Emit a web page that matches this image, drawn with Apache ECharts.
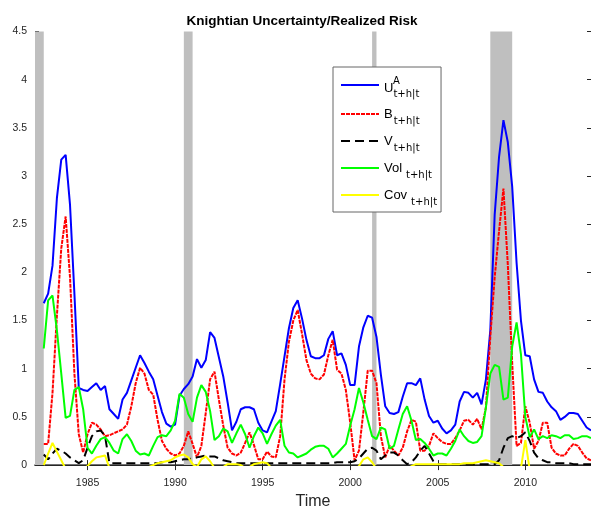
<!DOCTYPE html>
<html>
<head>
<meta charset="utf-8">
<script src="https://cdn.jsdelivr.net/npm/echarts@6/dist/echarts.min.js"></script>
<style>
html, body { margin: 0; padding: 0; background: #fff; }
#chart { width: 591px; height: 515px; }
</style>
</head>
<body>
<div id="chart"></div>
<script>
// quarterly data, first observation 1982Q3
const startYear = 1982.5;

const uncertainty = [
    1.68, 1.78, 2.07, 2.77, 3.17, 3.22, 2.70, 1.78, 0.80, 0.78,
    0.77, 0.81, 0.85, 0.78, 0.82, 0.58, 0.53, 0.48, 0.68, 0.75,
    0.88, 1.01, 1.14, 1.06, 0.97, 0.89, 0.72, 0.55, 0.43, 0.40,
    0.42, 0.72, 0.79, 0.84, 0.92, 1.10, 1.01, 1.09, 1.38, 1.32,
    1.12, 0.92, 0.65, 0.36, 0.45, 0.58, 0.60, 0.60, 0.58, 0.44,
    0.36, 0.34, 0.45, 0.56, 0.84, 1.13, 1.42, 1.63, 1.71, 1.52,
    1.30, 1.13, 1.11, 1.11, 1.14, 1.31, 1.39, 1.14, 1.16, 1.04,
    0.83, 0.83, 1.23, 1.43, 1.55, 1.53, 1.33, 0.94, 0.61, 0.54,
    0.53, 0.55, 0.71, 0.85, 0.85, 0.83, 0.90, 0.68, 0.51, 0.44,
    0.46, 0.38, 0.33, 0.36, 0.42, 0.66, 0.76, 0.75, 0.70, 0.75,
    0.63, 0.89, 1.40, 2.60, 3.20, 3.58, 3.35, 2.89, 2.10, 1.50,
    1.14, 1.13, 0.89, 0.76, 0.75, 0.66, 0.60, 0.56, 0.47, 0.50,
    0.54, 0.54, 0.53, 0.46, 0.39, 0.36
];

const bias = [
    0.22, 0.22, 0.75, 1.55, 2.25, 2.58, 1.95, 0.95, 0.32, 0.13,
    0.32, 0.44, 0.42, 0.37, 0.30, 0.31, 0.33, 0.35, 0.37, 0.42,
    0.61, 0.85, 1.01, 0.95, 0.78, 0.73, 0.47, 0.25, 0.17, 0.12,
    0.10, 0.12, 0.20, 0.35, 0.22, 0.08, 0.20, 0.54, 0.89, 0.97,
    0.68, 0.41, 0.18, 0.12, 0.10, 0.13, 0.23, 0.34, 0.21, 0.06,
    0.06, 0.14, 0.09, 0.08, 0.30, 0.89, 1.28, 1.50, 1.61, 1.36,
    1.09, 0.95, 0.90, 0.89, 0.94, 1.14, 1.30, 0.99, 0.95, 0.78,
    0.44, 0.05, 0.15, 0.55, 0.98, 0.98, 0.85, 0.30, 0.08, 0.20,
    0.15, 0.10, 0.18, 0.35, 0.47, 0.45, 0.15, 0.15, 0.20, 0.33,
    0.28, 0.24, 0.22, 0.22, 0.28, 0.36, 0.46, 0.47, 0.42, 0.48,
    0.37, 0.60, 1.33, 1.95, 2.43, 2.87, 2.08, 1.06, 0.20, 0.23,
    0.61, 0.44, 0.17, 0.25, 0.44, 0.44, 0.18, 0.12, 0.10, 0.10,
    0.17, 0.22, 0.20, 0.13, 0.07, 0.05
];

const variance = [
    0.11, 0.06, 0.12, 0.17, 0.15, 0.12, 0.08, 0.05, 0.02, 0.05,
    0.18, 0.30, 0.35, 0.36, 0.30, 0.02, 0.02, 0.02, 0.02, 0.02,
    0.02, 0.02, 0.02, 0.02, 0.02, 0.02, 0.02, 0.03, 0.03, 0.03,
    0.04, 0.05, 0.06, 0.06, 0.07, 0.08, 0.09, 0.10, 0.09, 0.09,
    0.07, 0.05, 0.04, 0.03, 0.02, 0.02, 0.02, 0.02, 0.02, 0.02,
    0.02, 0.02, 0.02, 0.02, 0.02, 0.02, 0.02, 0.02, 0.02, 0.02,
    0.02, 0.02, 0.02, 0.02, 0.02, 0.02, 0.02, 0.03, 0.03, 0.03,
    0.03, 0.04, 0.07, 0.12, 0.17, 0.18, 0.15, 0.06, 0.10, 0.13,
    0.13, 0.10, 0.05, 0.01, 0.03, 0.08, 0.15, 0.20, 0.12, 0.04,
    0.01, 0.01, 0.01, 0.01, 0.01, 0.01, 0.01, 0.01, 0.01, 0.01,
    0.01, 0.01, 0.01, 0.01, 0.05, 0.18, 0.28, 0.30, 0.28, 0.30,
    0.34, 0.25, 0.13, 0.07, 0.05, 0.03, 0.03, 0.02, 0.02, 0.02,
    0.02, 0.01, 0.01, 0.01, 0.01, 0.01
];

const volatility = [
    1.21, 1.71, 1.76, 1.40, 0.95, 0.49, 0.51, 0.78, 0.81, 0.58,
    0.18, 0.12, 0.20, 0.27, 0.29, 0.23, 0.15, 0.12, 0.27, 0.32,
    0.25, 0.15, 0.11, 0.12, 0.10, 0.20, 0.29, 0.31, 0.30, 0.36,
    0.46, 0.74, 0.70, 0.53, 0.45, 0.70, 0.83, 0.76, 0.56, 0.26,
    0.30, 0.38, 0.35, 0.23, 0.33, 0.42, 0.32, 0.18, 0.30, 0.39,
    0.33, 0.22, 0.32, 0.41, 0.47, 0.20, 0.13, 0.12, 0.08, 0.10,
    0.12, 0.16, 0.19, 0.20, 0.20, 0.17, 0.08, 0.12, 0.17, 0.22,
    0.41, 0.58, 0.80, 0.65, 0.47, 0.30, 0.27, 0.39, 0.37, 0.17,
    0.20, 0.37, 0.53, 0.61, 0.46, 0.26, 0.27, 0.23, 0.17, 0.10,
    0.12, 0.12, 0.10, 0.17, 0.25, 0.37, 0.30, 0.25, 0.23, 0.24,
    0.30, 0.60, 0.95, 1.04, 1.02, 0.68, 0.70, 1.23, 1.48, 1.15,
    0.50, 0.29, 0.37, 0.27, 0.30, 0.28, 0.31, 0.30, 0.28, 0.31,
    0.31, 0.27, 0.28, 0.30, 0.30, 0.28
];

// below zero the line is cut off by the axis
const covariance = [
    0.00, 0.12, 0.23, 0.14, 0.05, -0.04, -0.05, -0.05, -0.05, -0.05,
    -0.01, 0.04, 0.08, 0.09, 0.10, -0.03, -0.05, -0.05, -0.05, -0.05,
    -0.05, -0.05, -0.05, -0.05, -0.02, 0.00, 0.02, 0.03, 0.04, 0.05,
    0.08, 0.10, 0.11, 0.08, 0.01, -0.02, 0.06, 0.09, 0.04, -0.03,
    -0.05, -0.02, 0.01, 0.01, 0.01, 0.00, -0.03, -0.02, 0.01, 0.02,
    0.03, 0.02, -0.03, -0.05, -0.05, -0.05, -0.05, -0.05, -0.05, -0.05,
    -0.05, -0.05, -0.05, -0.05, -0.05, -0.05, -0.05, -0.05, -0.05, -0.05,
    -0.05, -0.05, -0.01, 0.06, 0.08, 0.03, -0.04, -0.05, -0.05, -0.05,
    -0.05, -0.05, -0.05, -0.05, -0.01, 0.01, 0.01, 0.01, 0.01, 0.01,
    0.01, 0.01, 0.01, 0.01, 0.01, 0.01, 0.02, 0.02, 0.02, 0.03,
    0.04, 0.05, 0.04, 0.03, 0.02, -0.02, -0.05, -0.05, -0.05, -0.03,
    0.26, -0.05, -0.05, -0.05, -0.05, -0.05, -0.05, -0.05, -0.05, -0.05,
    -0.05, -0.05, -0.05, -0.05, -0.05, -0.05
];

const recessions = [[1982.0, 1982.5], [1990.5, 1991.0], [2001.25, 2001.5], [2008.0, 2009.25]];
const yearTicks = [1985, 1990, 1995, 2000, 2005, 2010];

const quarters = uncertainty.map((_, i) => startYear + i * 0.25);
const pairs = (values) => values.map((v, i) => [quarters[i], v]);

const font = '"Liberation Sans", Arial, Helvetica, sans-serif';
const ink = '#262626';

const chart = echarts.init(document.getElementById('chart'));

const lineSeries = (name, values, color, type) => ({
    name,
    type: 'line',
    data: pairs(values),
    symbol: 'none',
    showSymbol: false,
    z: 3,
    lineStyle: { color, width: 2, type },
    itemStyle: { color },
    emphasis: { disabled: true },
});

const legendText = {
    U: '{mu|U}{su|t+h|t}',
    B: '{m|B}{s|t+h|t}',
    V: '{m|V}{s|t+h|t}',
    Vol: '{m|Vol}{s2|t+h|t}',
    Cov: '{m|Cov}{s2|t+h|t}',
};

const mainStyle = { fontSize: 13, fontFamily: font, color: '#000', lineHeight: 14 };
const subStyle = { fontSize: 10, fontFamily: '"DejaVu Sans", sans-serif', color: '#000', lineHeight: 12, verticalAlign: 'top' };

chart.setOption({
    animation: false,
    title: {
        text: 'Knightian Uncertainty/Realized Risk',
        left: 302,
        top: 14,
        textAlign: 'center',
        padding: 0,
        textStyle: { fontFamily: font, fontSize: 13.5, fontWeight: 'bold', color: '#000' },
    },
    grid: { left: 35, right: -1, top: 31.5, bottom: 45.5 },
    legend: {
        orient: 'vertical',
        left: 333,
        top: 67,
        padding: [11, 4, 0, 7],
        itemGap: 3,
        itemWidth: 38,
        itemHeight: 14,
        backgroundColor: '#fff',
        borderColor: '#666',
        borderWidth: 1,
        selectedMode: false,
        itemStyle: { opacity: 0 },
        data: ['U', 'B', 'V', 'Vol', 'Cov'],
        formatter: (name) => legendText[name],
        textStyle: {
            fontFamily: font,
            fontSize: 13,
            rich: {
                m: { ...mainStyle, verticalAlign: 'middle' },
                mu: { ...mainStyle, verticalAlign: 'top', padding: [3.5, 0, 0, 0] },
                s: { ...subStyle, padding: [9.5, 0, 4.5, 1] },
                s2: { ...subStyle, padding: [9.5, 0, 4.5, 4] },
                su: { ...subStyle, padding: [11, 0, 5, 0] },
            },
        },
    },
    graphic: {
        elements: [{
            type: 'text',
            left: 393,
            top: 76,
            z: 100,
            style: { text: 'A', font: '10px "DejaVu Sans", sans-serif', fill: '#000' },
        }],
    },
    xAxis: [
        {
            type: 'value',
            min: 1982,
            max: 2013.75,
            name: 'Time',
            nameLocation: 'middle',
            nameGap: 22,
            nameTextStyle: { fontFamily: font, fontSize: 16, color: ink },
            axisLine: { lineStyle: { color: '#444', width: 1.5 } },
            axisTick: { inside: true, length: 5, customValues: yearTicks, lineStyle: { color: ink } },
            axisLabel: {
                customValues: yearTicks,
                margin: 13,
                fontFamily: font,
                fontSize: 10.5,
                color: ink,
                formatter: (v) => String(v),
            },
            splitLine: { show: false },
        },
        {
            type: 'value',
            position: 'top',
            min: 1982,
            max: 2013.75,
            axisLine: { lineStyle: { color: ink, width: 1 } },
            axisTick: { inside: true, length: 5, customValues: yearTicks, lineStyle: { color: ink } },
            axisLabel: { show: false },
            splitLine: { show: false },
        },
    ],
    yAxis: [
        {
            type: 'value',
            min: 0,
            max: 4.5,
            interval: 0.5,
            axisLine: { show: true, lineStyle: { color: ink, width: 1 } },
            axisTick: { show: true, inside: true, length: 4, lineStyle: { color: ink } },
            axisLabel: { margin: 8, fontFamily: font, fontSize: 10.5, color: ink },
            splitLine: { show: false },
        },
        {
            type: 'value',
            position: 'right',
            min: 0,
            max: 4.5,
            interval: 0.5,
            axisLine: { show: true, lineStyle: { color: ink, width: 1 } },
            axisTick: { show: true, inside: true, length: 4, lineStyle: { color: ink } },
            axisLabel: { show: false },
            splitLine: { show: false },
        },
    ],
    series: [
        {
            name: 'recessions',
            type: 'line',
            data: [],
            z: 1,
            silent: true,
            markArea: {
                silent: true,
                itemStyle: { color: '#bfbfbf' },
                data: recessions.map(([a, b]) => [{ xAxis: a }, { xAxis: b }]),
            },
        },
        lineSeries('U', uncertainty, '#0000ff', 'solid'),
        lineSeries('B', bias, '#ff0000', [4, 1]),
        lineSeries('V', variance, '#000000', [9, 5]),
        lineSeries('Vol', volatility, '#00ff00', 'solid'),
        lineSeries('Cov', covariance, '#ffff00', 'solid'),
    ],
});

window.addEventListener('resize', chart.resize);
</script>
</body>
</html>
